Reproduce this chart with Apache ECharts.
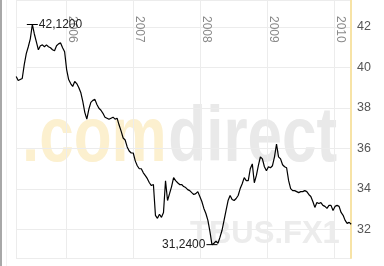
<!DOCTYPE html>
<html><head><meta charset="utf-8">
<script src="https://cdn.jsdelivr.net/npm/echarts@6/dist/echarts.min.js"></script>
<style>html,body{margin:0;padding:0;background:#fff}#c{width:384px;height:266px}</style>
</head><body><div id="c"></div>
<script>
// sampling grid of the price series (one reading every 11 days)
const startDate = '2005-04-02';
const stepDays = 11;
// TBUS.FX1 closes
const prices = [
39.55,39.35,39.40,39.45,40.14,40.68,41.02,41.41,42.12,41.65,
41.26,40.87,41.07,41.11,41.02,41.11,41.02,40.97,40.87,40.82,
41.07,41.16,41.21,40.97,40.77,39.89,39.40,39.20,39.06,39.30,
39.20,39.01,38.76,38.32,37.78,37.44,37.93,38.27,38.37,38.42,
38.17,37.98,37.88,37.73,37.54,37.49,37.44,37.49,37.54,37.44,
37.49,37.15,36.85,36.51,36.41,36.07,35.87,35.77,35.77,35.38,
35.14,34.99,34.99,34.79,34.65,34.50,34.30,34.16,34.21,32.69,
32.54,32.74,32.59,32.83,34.40,33.42,33.76,34.11,34.55,34.40,
34.30,34.21,34.21,34.11,34.06,33.96,33.91,33.81,33.72,33.76,
33.86,33.62,33.37,33.03,32.78,32.44,31.90,31.24,31.31,31.41,
31.31,31.61,31.95,32.44,32.93,33.42,33.67,33.47,33.42,33.52,
33.67,34.01,34.25,34.55,34.40,34.40,34.99,35.23,34.30,34.65,
35.14,35.58,35.48,35.09,34.89,35.09,35.04,35.14,35.58,36.21,
35.58,35.48,35.19,35.09,35.04,34.40,34.01,33.91,33.91,33.86,
33.81,33.86,33.86,33.91,33.86,33.72,33.62,33.37,33.08,33.32,
33.27,33.32,33.18,33.13,33.03,33.18,33.18,32.93,33.13,33.18,
33.13,32.83,32.69,32.44,32.29,32.34,32.25
];
const xMin = '2005-04-01';
const xMax = '2010-04-01';
const yMin = 30.58;
const yMax = 43.33;
const yTicks = [32, 34, 36, 38, 40, 42];

const t0 = new Date(startDate + 'T00:00:00Z').getTime();
const seriesData = prices.map((v, i) => [t0 + i * stepDays * 86400000, v]);

const chart = echarts.init(document.getElementById('c'), null, {renderer: 'canvas'});
const fmt = v => v.toFixed(4).replace('.', ',');
chart.setOption({
  animation: false,
  backgroundColor: '#fff',
  grid: {left: 16, right: 33, top: -2, bottom: 8, containLabel: false},
  graphic: [
    {type: 'rect', shape: {x: 0, y: 0, width: 2, height: 266}, style: {fill: '#a8a8a8'}, z: -5, silent: true},
    {type: 'rect', shape: {x: 6, y: 0, width: 1, height: 266}, style: {fill: '#f2f2f2'}, z: -5, silent: true},
    {type: 'group', x: 22, y: 0, scaleX: 0.795, z: -10, silent: true, children: [
      {type: 'text', x: 0, y: 139, style: {text: '.com', font: 'bold 78px "Liberation Sans"', fill: '#fcf0cf', textVerticalAlign: 'middle'}, z: -10},
      {type: 'text', x: 184, y: 139, style: {text: 'direct', font: 'bold 78px "Liberation Sans"', fill: '#e9e9e9', textVerticalAlign: 'middle'}, z: -10}
    ]},
    {type: 'text', x: 190, y: 234, style: {text: 'TBUS.FX1', font: 'bold 31px "Liberation Sans"', fill: '#ececec', textVerticalAlign: 'middle'}, z: -10, silent: true}
  ],
  xAxis: {
    type: 'time', position: 'top', min: xMin, max: xMax,
    axisLine: {show: false}, axisTick: {show: false},
    axisLabel: {inside: true, rotate: 90, margin: 16, formatter: '{yyyy}', color: '#8a8a8a',
      fontSize: 12, fontFamily: 'Liberation Sans', verticalAlign: 'bottom'},
    splitLine: {show: true, lineStyle: {color: '#ececec', width: 1}}
  },
  yAxis: {
    type: 'value', position: 'right', min: yMin, max: yMax, splitNumber: 6,
    minInterval: 2, maxInterval: 2, scale: true,
    axisLine: {show: true, lineStyle: {color: '#f7e3a6', width: 2}},
    axisTick: {show: false},
    axisLabel: {margin: 6, color: '#555', fontSize: 12.5, fontFamily: 'Liberation Sans',
      showMinLabel: false, showMaxLabel: false,
      formatter: v => (yTicks.indexOf(v) >= 0 ? String(v) : '')},
    splitLine: {show: true, lineStyle: {color: '#ececec', width: 1}}
  },
  series: [{
    type: 'line', data: seriesData, showSymbol: false, symbol: 'none',
    lineStyle: {color: '#000', width: 1.2}, z: 5,
    markPoint: {
      symbol: 'rect', symbolSize: [11, 1], itemStyle: {color: '#000'},
      label: {show: true, color: '#222', fontSize: 12, fontFamily: 'Liberation Sans', distance: 1,
        formatter: p => fmt(p.value)},
      data: [
        {type: 'max', label: {position: 'right'}},
        {type: 'min', label: {position: 'left'}}
      ]
    }
  }]
});
</script></body></html>
